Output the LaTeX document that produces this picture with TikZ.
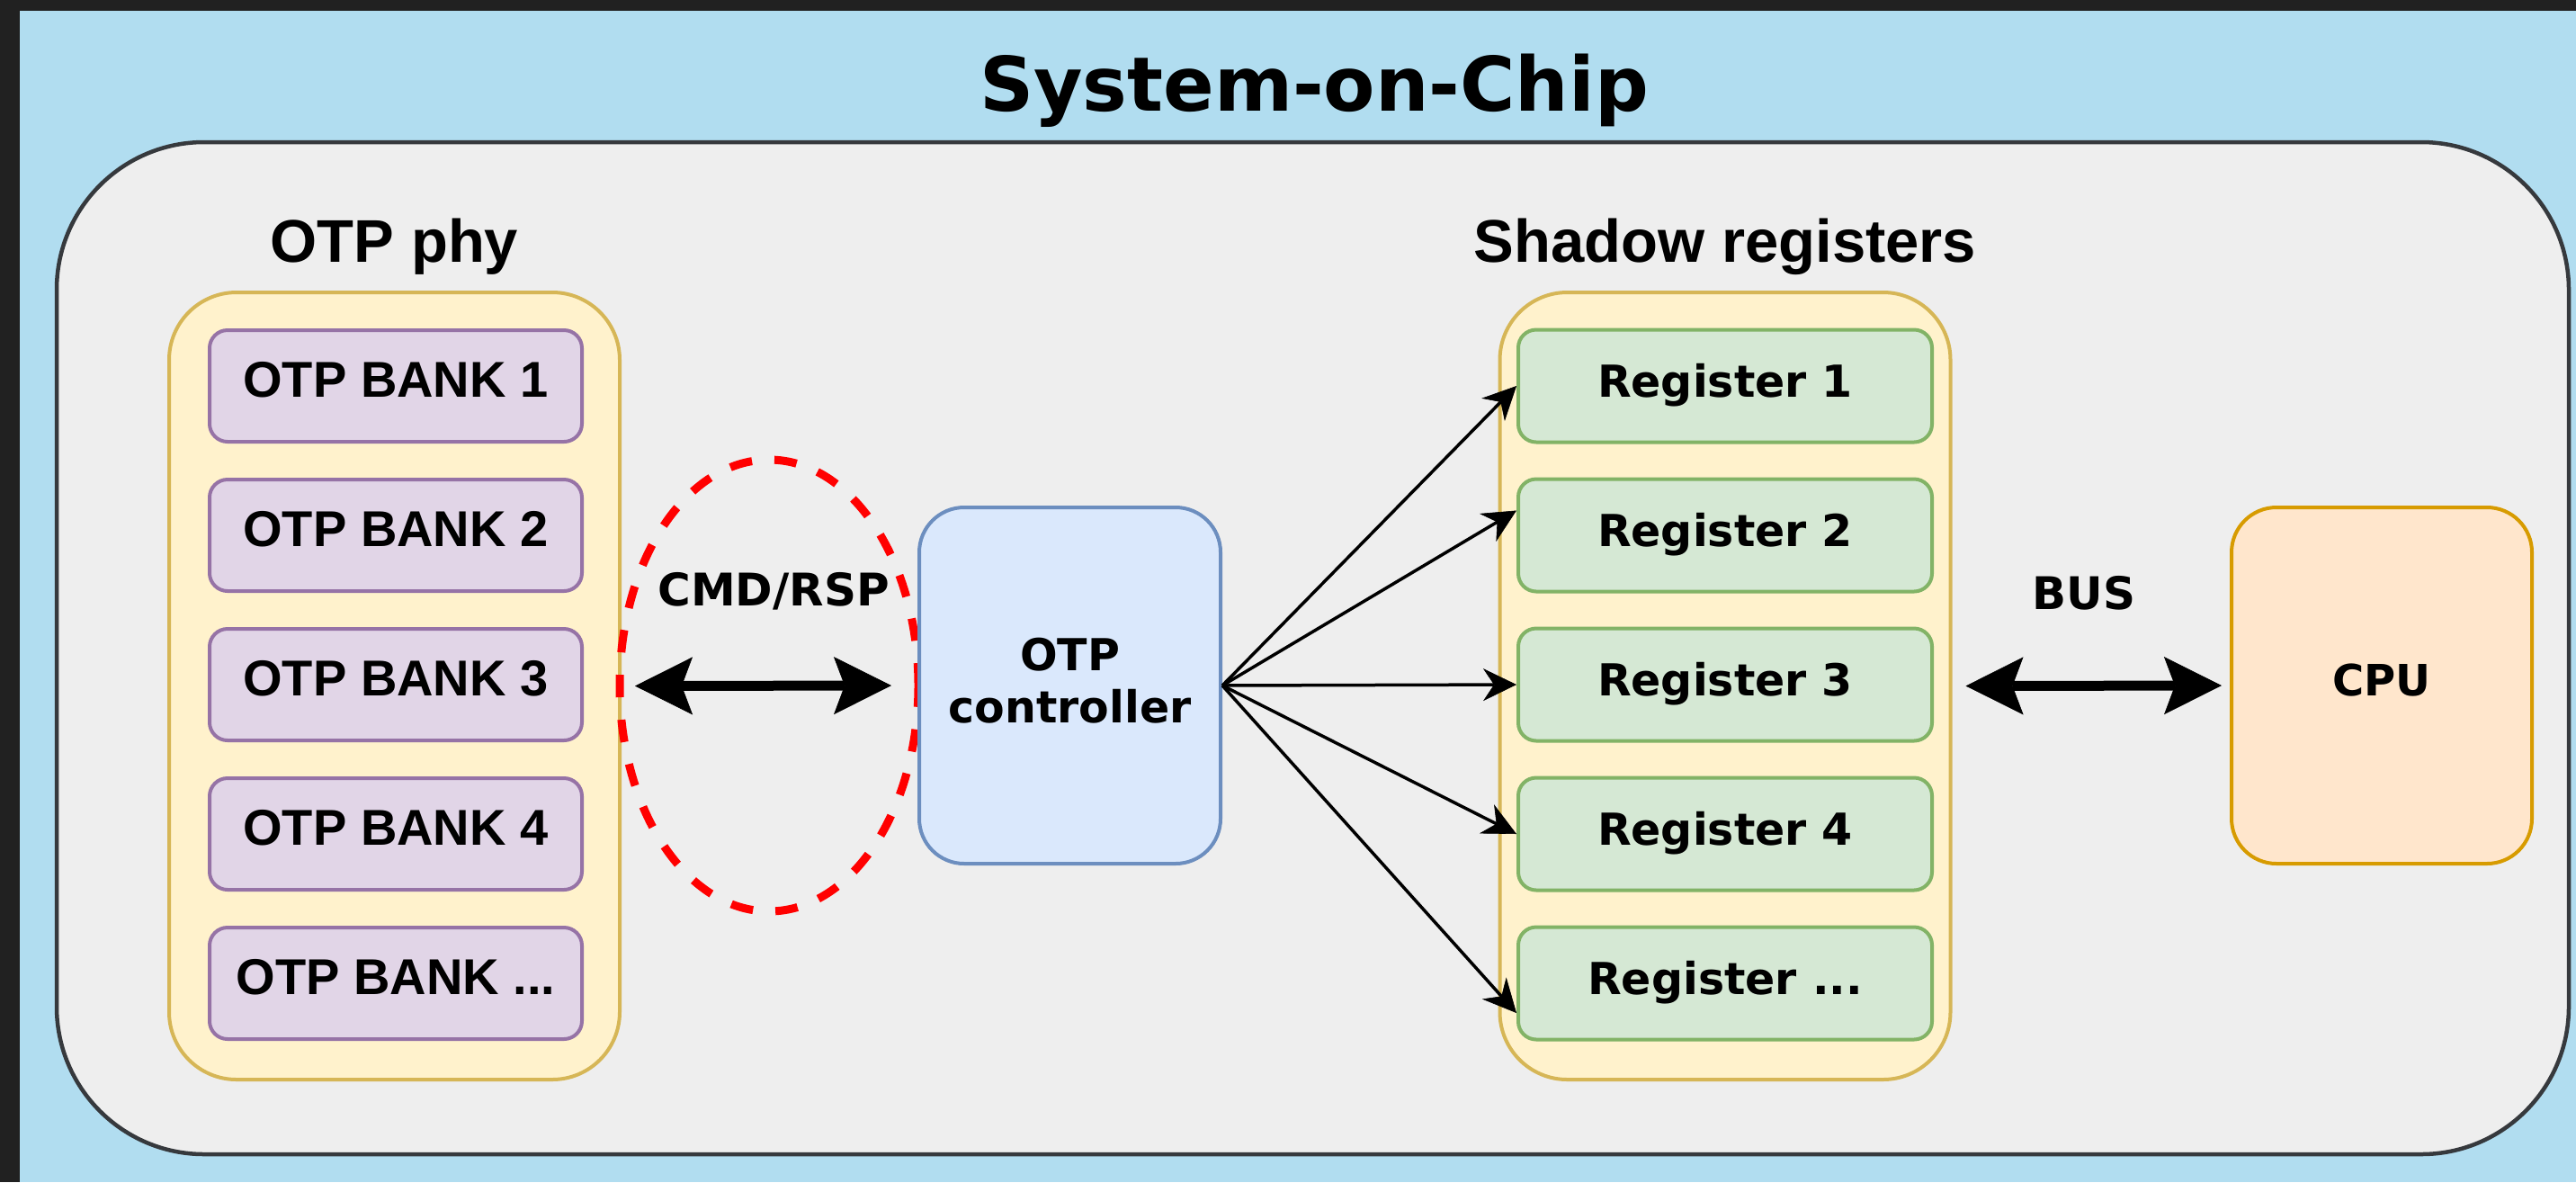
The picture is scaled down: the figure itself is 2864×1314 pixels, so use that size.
\documentclass[tikz,border=0pt]{standalone}
\usepackage{fontspec}
\usetikzlibrary{arrows.meta,shapes.geometric}
\newfontfamily\djv{DejaVu Sans}
\newfontfamily\lib{Liberation Sans}
\definecolor{frameC}{HTML}{212121}
\definecolor{bgC}{HTML}{B1DDF0}
\definecolor{socD}{HTML}{36393D}
\definecolor{socF}{HTML}{EEEEEE}
\definecolor{grpD}{HTML}{D6B656}
\definecolor{grpF}{HTML}{FFF2CC}
\definecolor{bankD}{HTML}{9673A6}
\definecolor{bankF}{HTML}{E1D5E7}
\definecolor{regD}{HTML}{82B366}
\definecolor{regF}{HTML}{D5E8D4}
\definecolor{ctrlD}{HTML}{6C8EBF}
\definecolor{ctrlF}{HTML}{DAE8FC}
\definecolor{cpuD}{HTML}{D79B00}
\definecolor{cpuF}{HTML}{FFE6CC}
\tikzset{
  titletext/.style={anchor=base, inner sep=0pt, font=\djv\bfseries\fontsize{41.8}{50}\selectfont},
  socbox/.style={draw=socD, fill=socF, line width=2.25pt, rounded corners=82pt, minimum width=1396.5pt, minimum height=562.5pt, inner sep=0pt},
  groupbox/.style={draw=grpD, fill=grpF, line width=2pt, rounded corners=37.5pt, minimum width=250.5pt, minimum height=437.5pt, inner sep=0pt},
  grouplabel/.style={anchor=base, inner sep=0pt, font=\lib\bfseries\fontsize{33.5}{40}\selectfont},
  bankbox/.style={draw=bankD, fill=bankF, line width=2pt, rounded corners=10pt, minimum width=207pt, minimum height=62pt, inner sep=0pt, text height=20pt, text depth=8pt, font=\lib\bfseries\fontsize{28}{34}\selectfont},
  regbox/.style={draw=regD, fill=regF, line width=2pt, rounded corners=10pt, minimum width=230pt, minimum height=62.5pt, inner sep=0pt, text height=18pt, text depth=6pt, font=\djv\bfseries\fontsize{24.5}{29}\selectfont},
  ctrlbox/.style={draw=ctrlD, fill=ctrlF, line width=2pt, rounded corners=25pt, minimum width=167.5pt, minimum height=198pt, inner sep=0pt, align=center, text depth=6pt, font=\djv\bfseries\fontsize{24.5}{29}\selectfont},
  cpubox/.style={draw=cpuD, fill=cpuF, line width=2pt, rounded corners=25pt, minimum width=167pt, minimum height=198pt, inner sep=0pt, text height=17pt, text depth=6pt, font=\djv\bfseries\fontsize{24}{29}\selectfont},
  bubble/.style={ellipse, draw=red, line width=4.5pt, dash pattern=on 12.5pt off 12.5pt, minimum width=166pt, minimum height=251pt, inner sep=0pt},
  linklabel/.style={anchor=base, inner sep=0pt, font=\djv\bfseries\fontsize{25}{30}\selectfont},
  fanarrow/.style={line width=1.75pt, -{Stealth[length=18.5pt, width=18pt, inset=6pt, line width=0.3pt]}},
  busarrow/.style={line width=5.5pt, {Stealth[length=32pt, width=32pt, inset=6pt, line width=0.3pt]}-{Stealth[length=32pt, width=32pt, inset=6pt, line width=0.3pt]}},
}
\begin{document}
\begin{tikzpicture}[x=0.5pt,y=-0.5pt]
\fill[frameC] (0,0) rectangle (2864,1314);
\useasboundingbox (0,0) rectangle (2864,1314);
\fill[bgC] (22,12) rectangle (2864,1314);

\node[titletext] (title) at (1461,123) {System-on-Chip};
\node[socbox] (soc) at (1459.5,720.5) {};

\node[groupbox] (phy) at (438.5,762.5) {};
\node[groupbox] (regs) at (1918,762.5) {};
\node[grouplabel] (phylabel) at (438.5,291) {OTP phy};
\node[grouplabel] (regslabel) at (1918,291) {Shadow registers};

\node[bankbox] (b1) at (440,429) {OTP BANK 1};
\node[bankbox] (b2) at (440,595) {OTP BANK 2};
\node[bankbox] (b3) at (440,761) {OTP BANK 3};
\node[bankbox] (b4) at (440,927) {OTP BANK 4};
\node[bankbox] (b5) at (440,1093) {OTP BANK ...};

\node[regbox] (r1) at (1918,429) {Register 1};
\node[regbox] (r2) at (1918,595) {Register 2};
\node[regbox] (r3) at (1918,761) {Register 3};
\node[regbox] (r4) at (1918,927) {Register 4};
\node[regbox] (r5) at (1918,1093) {Register ...};

\node[bubble] (bubble) at (855,762) {};
\node[ctrlbox] (ctrl) at (1189.5,762) {OTP\\controller};
\node[cpubox] (cpu) at (2648,762) {CPU};

\node[linklabel] (cmdlabel) at (860,673) {CMD/RSP};
\node[linklabel] (buslabel) at (2317,677) {BUS};

\coordinate (cmdL) at ([xshift=7.5pt]phy.east);
\coordinate (cmdR) at ([xshift=-14.5pt]ctrl.west);
\coordinate (busL) at ([xshift=7.5pt]regs.east);
\coordinate (busR) at ([xshift=-4.5pt]cpu.west);
\draw[busarrow] (cmdL) -- (cmdR);
\draw[busarrow] (busL) -- (busR);

\draw[fanarrow] (ctrl.east) -- (r1.west);
\draw[fanarrow] (ctrl.east) -- ([yshift=13.75pt]r2.west);
\draw[fanarrow] (ctrl.east) -- (r3.west);
\draw[fanarrow] (ctrl.east) -- (r4.west);
\draw[fanarrow] (ctrl.east) -- ([yshift=-16.5pt]r5.west);
\end{tikzpicture}
\end{document}
